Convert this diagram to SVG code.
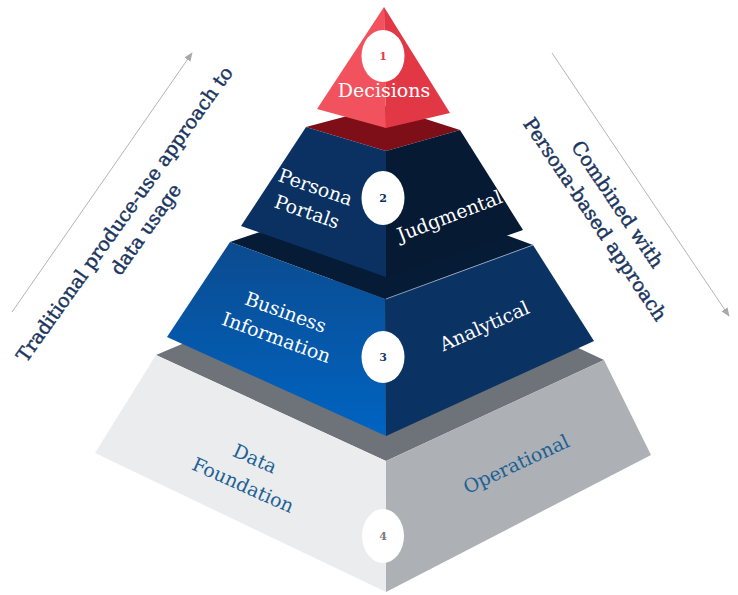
<svg xmlns="http://www.w3.org/2000/svg" width="738" height="595" viewBox="0 0 738 595">
<style>
  .lbl { font-family: "DejaVu Serif", "Liberation Serif", serif; font-size: 19px; text-anchor: middle; }
  .w { fill: #ffffff; }
  .b { fill: #1c6194; }
  .side { font-family: "DejaVu Serif", "Liberation Serif", serif; font-size: 19.3px; text-anchor: middle; fill: #1b355e; stroke: #1b355e; stroke-width: 0.45; }
  .num { font-family: "DejaVu Serif", "Liberation Serif", serif; font-size: 11px; font-weight: bold; text-anchor: middle; }
  .badge { fill: #ffffff; }
  .arrow { stroke: #b4b4b4; stroke-width: 1; fill: none; marker-end: url(#ah); }
</style>
<defs>
  <marker id="ah" viewBox="0 0 10 10" refX="9" refY="5" markerWidth="9" markerHeight="9" markerUnits="userSpaceOnUse" orient="auto">
    <path d="M0,1 L10,5 L0,9 Z" fill="#a8a8a8"/>
  </marker>
  <linearGradient id="gBlue" x1="0" y1="0" x2="0" y2="1">
    <stop offset="0" stop-color="#0b4b8f"/>
    <stop offset="1" stop-color="#0064c2"/>
  </linearGradient>
</defs>
<rect width="738" height="595" fill="#ffffff"/>

<g id="connectors">
  <line class="arrow" x1="12" y1="312" x2="192" y2="53"/>
  <line class="arrow" x1="552" y1="53" x2="729" y2="316"/>
</g>

<g id="tier4">
  <polygon points="156,355 386,258 604,360 386,461" fill="#6e7279"/>
  <polygon points="156,355 386,461 386,592 95,453" fill="#ebecee"/>
  <polygon points="386,461 604,360 651,455 386,592" fill="#adb0b5"/>
  <text class="lbl b" transform="translate(249,472) rotate(24)"><tspan x="0" y="-8">Data</tspan><tspan x="0" y="21">Foundation</tspan></text>
  <text class="lbl b" transform="translate(519,470) rotate(-25)">Operational</text>
  <ellipse class="badge" cx="383" cy="536" rx="21" ry="27"/>
  <text class="num" x="383" y="540" fill="#777b82">4</text>
</g>

<g id="tier3">
  <polygon points="230,242 386,190 533,245 385,299" fill="#061b36"/>
  <polygon points="230,242 385,299 386,436 167,337" fill="url(#gBlue)"/>
  <polygon points="385,299 533,245 594,341 386,436" fill="#0a3262"/>
  <line x1="386" y1="299" x2="533" y2="245" stroke="#9fb3cc" stroke-width="0.8"/>
  <text class="lbl w" transform="translate(281,325) rotate(20)"><tspan x="0" y="-7">Business</tspan><tspan x="0" y="20">Information</tspan></text>
  <text class="lbl w" transform="translate(487,332) rotate(-24)">Analytical</text>
  <ellipse class="badge" cx="383" cy="357" rx="21.5" ry="26"/>
  <text class="num" x="383" y="361" fill="#1a3a6a">3</text>
</g>

<g id="tier2">
  <polygon points="306,127 385,106 460,130 386,151" fill="#7e0e17"/>
  <polygon points="306,127 386,151 386,277 241,226" fill="#0a3162"/>
  <polygon points="386,151 460,130 523,230 386,277" fill="#061a34"/>
  <text class="lbl w" transform="translate(311,200) rotate(19)"><tspan x="0" y="-7">Persona</tspan><tspan x="0" y="19">Portals</tspan></text>
  <text class="lbl w" transform="translate(452,222) rotate(-21)">Judgmental</text>
  <ellipse class="badge" cx="383" cy="198" rx="21.5" ry="27"/>
  <text class="num" x="383" y="202" fill="#0a2d5a">2</text>
</g>

<g id="tier1">
  <polygon points="384,7 317,109 386,128" fill="#f2525d"/>
  <polygon points="384,7 386,128 450,113" fill="#e23846"/>
  <ellipse class="badge" cx="383" cy="56" rx="21.5" ry="26"/>
  <text class="num" x="383" y="60" fill="#e0404c">1</text>
  <text class="lbl w" x="384" y="97">Decisions</text>
</g>

<g id="left-label">
  <text class="side" transform="translate(130,218) rotate(-54.5)"><tspan x="0" y="0">Traditional produce-use approach to</tspan><tspan x="0" y="26">data usage</tspan></text>
</g>

<g id="right-label">
  <text class="side" transform="translate(612,208) rotate(56)"><tspan x="0" y="0">Combined with</tspan><tspan x="0" y="27">Persona-based approach</tspan></text>
</g>
</svg>
